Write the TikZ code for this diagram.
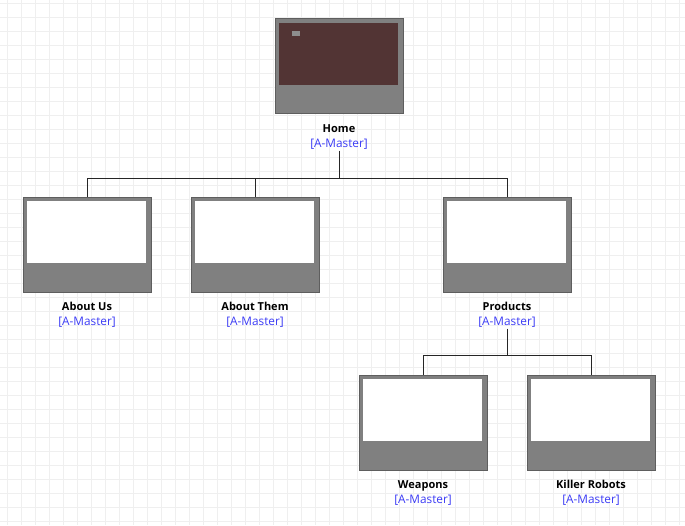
\documentclass[tikz,border=0pt]{standalone}
\usepackage{fontspec}
\setmainfont{Open Sans}
\definecolor{pagegray}{HTML}{808080}
\definecolor{pageedge}{HTML}{5E5E5E}
\definecolor{homefill}{HTML}{523434}
\definecolor{masterblue}{HTML}{3B3BF5}
\definecolor{gridgray}{HTML}{EFEFEF}
\tikzset{
  page/.style={draw=pageedge,fill=pagegray,line width=0.8pt,minimum width=128pt,minimum height=95pt,inner sep=0pt,
    path picture={\fill[#1]([shift={(4pt,-4pt)}]path picture bounding box.north west) rectangle ([shift={(-5pt,29pt)}]path picture bounding box.south east);}},
  page/.default=white,
  title/.style={font=\bfseries\fontsize{11}{13}\selectfont,inner sep=0pt,text height=8pt,text depth=2.5pt,yshift=-2pt},
  master/.style={font=\fontsize{11.8}{14}\selectfont,text=masterblue,inner sep=0pt,text height=8.5pt,text depth=2.5pt,yshift=-1pt},
  link/.style={draw=black!85,line width=0.7pt}
}
\begin{document}
\begin{tikzpicture}[x=1pt,y=-1pt]
\useasboundingbox (0,0) rectangle (685,525);
% background grid
\foreach \x in {7,21,...,685} \draw[gridgray,line width=0.8pt](\x,0)--(\x,525);
\foreach \y in {3,17,...,525} \draw[gridgray,line width=0.8pt](0,\y)--(685,\y);
% pages
\node[page=homefill](home)at(339,66){};
\fill[pagegray!90!white](292,31)rectangle(300,36);
\node[page](aboutus)at(87,244.5){};
\node[page](aboutthem)at(255,244.5){};
\node[page](products)at(507,244.5){};
\node[page](weapons)at(423,422.5){};
\node[page](robots)at(591,422.5){};
% captions
\node[title](home-t)at(339,128){Home};
\node[master](home-m)at(339,143){[A-Master]};
\node[title](aboutus-t)at(87,306){About Us};
\node[master](aboutus-m)at(87,321){[A-Master]};
\node[title](aboutthem-t)at(255,306){About Them};
\node[master](aboutthem-m)at(255,321){[A-Master]};
\node[title](products-t)at(507,306){Products};
\node[master](products-m)at(507,321){[A-Master]};
\node[title](weapons-t)at(423,484){Weapons};
\node[master](weapons-m)at(423,499){[A-Master]};
\node[title](robots-t)at(591,484){Killer Robots};
\node[master](robots-m)at(591,499){[A-Master]};
% links
\coordinate(home-j)at(339,178);
\coordinate(products-j)at(507,355);
\draw[link](home-m.south)+(0,1)--(home-j);
\draw[link](home-j)-|(aboutus.north) (home-j)-|(aboutthem.north) (home-j)-|(products.north);
\draw[link](products-m.south)+(0,1)--(products-j);
\draw[link](products-j)-|(weapons.north) (products-j)-|(robots.north);
\end{tikzpicture}
\end{document}
